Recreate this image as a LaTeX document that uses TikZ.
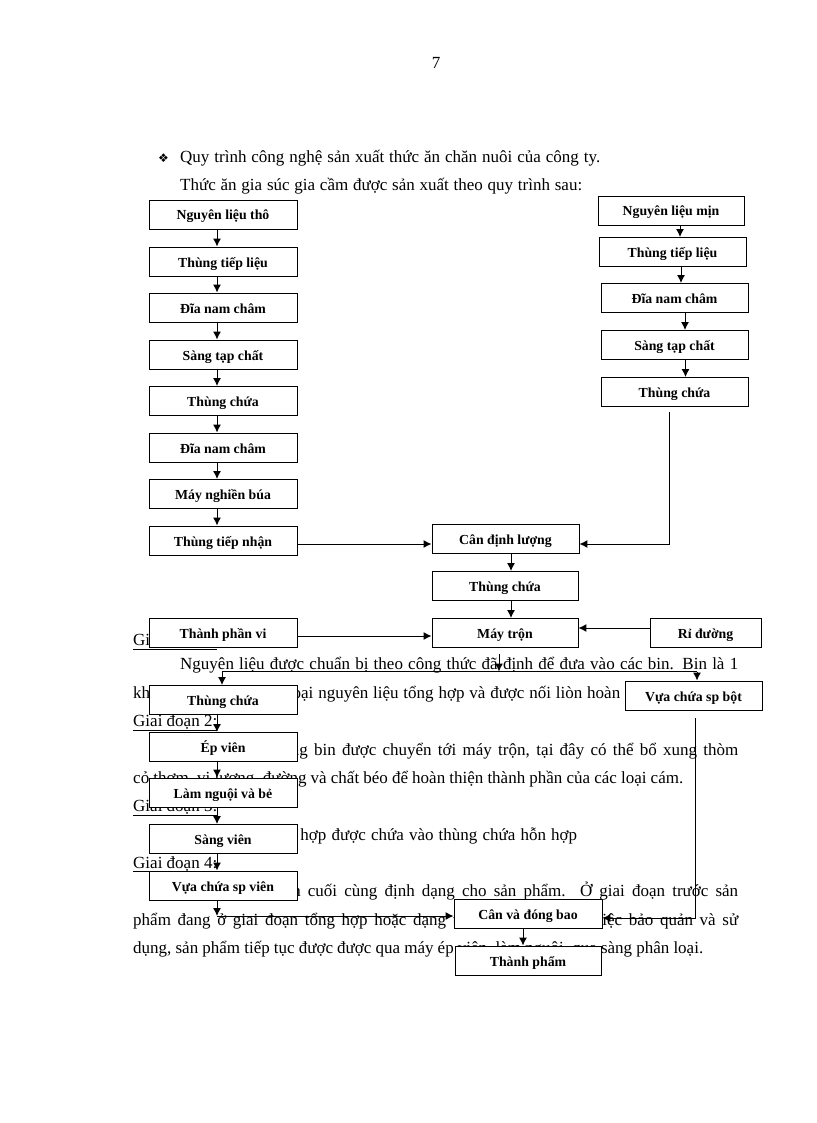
\documentclass[tikz,border=0pt]{standalone}
\usepackage{fontspec}
\setmainfont{Liberation Serif}
\newfontfamily\dejavu{DejaVu Sans}
\usetikzlibrary{arrows.meta,calc}
\newcommand{\jt}[2]{\makebox[#1pt][s]{#2}}
\begin{document}
\begin{tikzpicture}[x=1pt,y=-1pt,
  txt/.style={anchor=base west, inner sep=0pt, font=\fontsize{17}{20}\selectfont},
  box/.style={draw, fill=white, line width=0.95pt, inner sep=0pt, minimum width=148pt, minimum height=29pt, text height=13pt, text depth=2pt, font=\bfseries\fontsize{13.8}{15}\selectfont},
  arr/.style={line width=1pt, -{Latex[length=8pt,width=8pt]}},
  conn/.style={line width=1pt},
  uline/.style={line width=0.9pt}]
\fill[white] (0,0) rectangle (816,1123);
\useasboundingbox (0,0) rectangle (816,1123);

% ---------- page text ----------
\node[anchor=base, inner sep=0pt, font=\fontsize{17}{20}\selectfont] (pg) at (436,69) {7};
\node[inner sep=0pt, font=\dejavu\fontsize{12}{14}\selectfont] (bul) at (163.5,158) {❖};
\node[txt] (h1) at (180,163) {\jt{420}{Quy trình công nghệ sản xuất thức ăn chăn nuôi của công ty.}};
\node[txt] (h2) at (180,191) {\jt{402}{Thức ăn gia súc gia cầm được sản xuất theo quy trình sau:}};

\node[txt] (g1) at (133,645.5) {Giai đoạn 1:};
\node[txt] (p1a) at (180,669.5) {\jt{558}{Nguyên liệu được chuẩn bị theo công thức đã định để đưa vào các bin. Bin là 1}};
\node[txt] (p1b) at (133,698) {\jt{487}{khu vực để chứa từng loại nguyên liệu tổng hợp và được nối liòn hoàn}};
\node[txt] (g2) at (133,726.5) {Giai đoạn 2:};
\node[txt] (p2a) at (180,755) {\jt{558}{Nguyên liệu trong bin được chuyển tới máy trộn, tại đây có thể bổ xung thòm}};
\node[txt] (p2b) at (133,783) {\jt{550}{cỏ thơm, vi lượng, đường và chất béo để hoàn thiện thành phần của các loại cám.}};
\node[txt] (g3) at (133,811.5) {Giai đoạn 3:};
\node[txt] (p3) at (180,840) {\jt{397}{Nguyên liệu hỗn hợp được chứa vào thùng chứa hỗn hợp}};
\node[txt] (g4) at (133,868) {Giai đoạn 4:};
\node[txt] (p4a) at (180,896.5) {\jt{558}{Đây là giai đoạn cuối cùng định dạng cho sản phẩm. Ở giai đoạn trước sản}};
\node[txt] (p4b) at (133,925) {\jt{605}{phẩm đang ở giai đoạn tổng hợp hoặc dạng thô, thuận tiện cho việc bảo quản và sử}};
\node[txt] (p4c) at (133,953) {\jt{570}{dụng, sản phẩm tiếp tục được được qua máy ép viên, làm nguội, qua sàng phân loại.}};

\foreach \g in {g1,g2,g3,g4}
  \draw[uline] ([yshift=-3.5pt]\g.base west) -- ([yshift=-3.5pt]\g.base east);

% ---------- boxes ----------
\node[box] (L1) at (223,214.5) {Nguyên liệu thô};
\node[box] (L2) at (223,261.5) {Thùng tiếp liệu};
\node[box] (L3) at (223,307.5) {Đĩa nam châm};
\node[box] (L4) at (223,354.5) {Sàng tạp chất};
\node[box] (L5) at (223,401) {Thùng chứa};
\node[box] (L6) at (223,447.5) {Đĩa nam châm};
\node[box] (L7) at (223,494) {Máy nghiền búa};
\node[box] (L8) at (223,540.5) {Thùng tiếp nhận};

\node[box, minimum width=146pt] (R1) at (671,210.5) {Nguyên liệu mịn};
\node[box, minimum width=147pt] (R2) at (672.5,252) {Thùng tiếp liệu};
\node[box, minimum width=147pt] (R3) at (674.5,298) {Đĩa nam châm};
\node[box, minimum width=147pt] (R4) at (674.5,345) {Sàng tạp chất};
\node[box, minimum width=147pt] (R5) at (674.5,392) {Thùng chứa};

\node[box, minimum width=147pt] (M1) at (505.5,539) {Cân định lượng};
\node[box, minimum width=146pt] (M2) at (505,586) {Thùng chứa};
\node[box, minimum width=146pt] (M3) at (505,633) {Máy trộn};
\node[box] (TPV) at (223,633) {Thành phần vi};
\node[box, minimum width=111pt] (RD) at (705.5,633) {Rỉ đường};

\node[box] (B1) at (223,700) {Thùng chứa};
\node[box] (B2) at (223,747) {Ép viên};
\node[box] (B3) at (223,792.5) {Làm nguội và bẻ};
\node[box] (B4) at (223,839) {Sàng viên};
\node[box] (B5) at (223,885.5) {Vựa chứa sp viên};
\node[box, minimum width=137pt] (VB) at (693.5,695.5) {Vựa chứa sp bột};
\node[box] (CB) at (528,914) {Cân và đóng bao};
\node[box, minimum width=146pt] (TP) at (528,960.5) {Thành phẩm};

% ---------- connectors ----------
\foreach \a/\b in {L1/L2,L2/L3,L3/L4,L4/L5,L5/L6,L6/L7,L7/L8,B1/B2,B2/B3,B3/B4,B4/B5}
  \draw[arr] ([xshift=-6pt]\a.south) -- ([xshift=-6pt]\a.south |- \b.north);

\draw[arr] ([xshift=9pt]R1.south) -- ([xshift=9pt]R1.south |- R2.north);
\draw[arr] ([xshift=8.5pt]R2.south) -- ([xshift=8.5pt]R2.south |- R3.north);
\draw[arr] ([xshift=10.5pt]R3.south) -- ([xshift=10.5pt]R3.south |- R4.north);
\draw[arr] ([xshift=11pt]R4.south) -- ([xshift=11pt]R4.south |- R5.north);

\draw[arr] ([yshift=-3.5pt]L8.east) -- ([yshift=-3.5pt]L8.east -| M1.west);
\draw[arr] ([xshift=-5.5pt,yshift=-5pt]R5.south) |- ([yshift=-5pt]M1.east);
\draw[arr] ([xshift=5.5pt]M1.south) -- ([xshift=5.5pt]M1.south |- M2.north);
\draw[arr] ([xshift=6pt]M2.south) -- ([xshift=6pt]M2.south |- M3.north);
\draw[arr] ([yshift=-3pt]TPV.east) -- ([yshift=-3pt]TPV.east -| M3.west);
\draw[arr] ([yshift=5pt]RD.west) -- ([yshift=5pt]RD.west -| M3.east);

\coordinate (J1) at (222,671.5);
\coordinate (J2) at (697,671.5);
\draw[conn] (J1) -- (J2);
\draw[arr] ([xshift=-6pt,yshift=-6pt]M3.south) -- ([xshift=-6pt]M3.south |- J1);
\draw[arr] (J1) -- (J1 |- B1.north);
\draw[arr] (J2) -- (J2 |- VB.north);

\coordinate (J3) at (217,916);
\draw[arr] ([xshift=-6pt]B5.south) -- (J3);
\draw[arr] (J3) -- (J3 -| CB.west);
\draw[arr] ([xshift=1.5pt,yshift=-8pt]VB.south) |- ([yshift=-4pt]CB.east);
\draw[arr] ([xshift=-5pt]CB.south) -- ([xshift=-5pt]CB.south |- TP.north);
\end{tikzpicture}
\end{document}
